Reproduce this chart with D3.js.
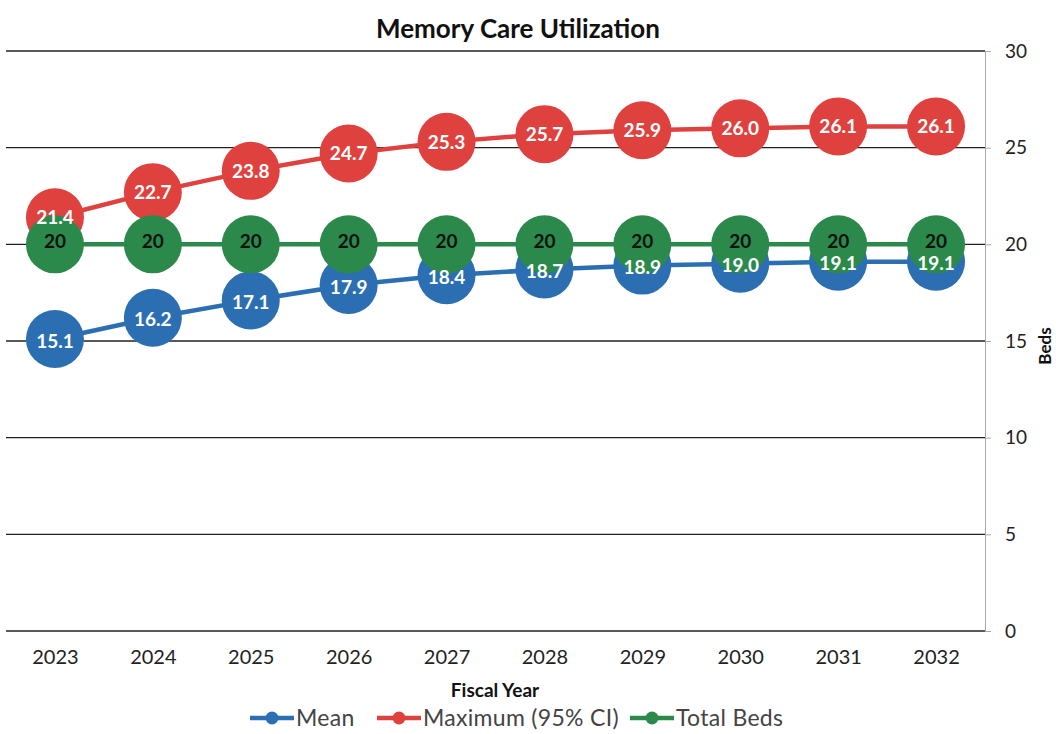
<!DOCTYPE html>
<html>
<head>
<meta charset="utf-8">
<script src="https://cdn.jsdelivr.net/npm/d3@7"></script>
<style>
  body { margin: 0; background: #fff; }
  text { font-family: Lato, "Open Sans", sans-serif; }
</style>
</head>
<body>
<script>
var width = 1056;
var height = 734;

// chart data
var years = ["2023", "2024", "2025", "2026", "2027", "2028", "2029", "2030", "2031", "2032"];
var meanBeds = [15.1, 16.2, 17.1, 17.9, 18.4, 18.7, 18.9, 19.0, 19.1, 19.1];
var maxBeds = [21.4, 22.7, 23.8, 24.7, 25.3, 25.7, 25.9, 26.0, 26.1, 26.1];
var totalBeds = [20, 20, 20, 20, 20, 20, 20, 20, 20, 20];
var yTicks = [0, 5, 10, 15, 20, 25, 30];

var series = [
  { name: "Mean", values: meanBeds, color: "#2b6fb2", label: "#fff", fmt: d3.format(".1f"), dy: 2 },
  { name: "Maximum (95% CI)", values: maxBeds, color: "#df423e", label: "#fff", fmt: d3.format(".1f"), dy: 0 },
  { name: "Total Beds", values: totalBeds, color: "#2b8a4b", label: "#111", fmt: d3.format("d"), dy: -3 }
];

var margin = { left: 6, right: 985, top: 51, bottom: 631 };

var x = d3.scalePoint()
    .domain(years)
    .range([margin.left, margin.right])
    .padding(0.5);

var y = d3.scaleLinear()
    .domain([0, 30])
    .range([margin.bottom, margin.top]);

var svg = d3.select("body").append("svg")
    .attr("width", width)
    .attr("height", height);

// title
svg.append("text")
    .attr("x", 518).attr("y", 38)
    .attr("text-anchor", "middle")
    .style("font-size", "26px").style("font-weight", "bold").style("fill", "#111")
    .text("Memory Care Utilization");

// gridlines
svg.append("g")
  .selectAll("line")
  .data(yTicks)
  .enter().append("line")
    .attr("x1", margin.left).attr("x2", margin.right)
    .attr("y1", d => y(d)).attr("y2", d => y(d))
    .attr("stroke", "#222").attr("stroke-width", 1.3);

// right axis
var yAxis = svg.append("g")
    .attr("transform", "translate(" + margin.right + ",0)")
    .call(d3.axisRight(y).tickValues(yTicks).tickSize(6).tickPadding(14));
yAxis.select(".domain").attr("stroke", "#aaa");
yAxis.selectAll(".tick line").attr("stroke", "#aaa");
yAxis.selectAll("text")
    .style("font-size", "19px").style("fill", "#222")
    .style("font-family", "Lato, sans-serif");

svg.append("text")
    .attr("transform", "translate(1051,346) rotate(-90)")
    .attr("text-anchor", "middle")
    .style("font-size", "17px").style("font-weight", "bold").style("fill", "#111")
    .text("Beds");

// x axis labels
var xAxis = svg.append("g")
    .attr("transform", "translate(0," + margin.bottom + ")")
    .call(d3.axisBottom(x).tickSize(0).tickPadding(19));
xAxis.select(".domain").remove();
xAxis.selectAll("text")
    .style("font-size", "20px").style("fill", "#222")
    .style("font-family", "Lato, sans-serif");

svg.append("text")
    .attr("x", 495).attr("y", 697)
    .attr("text-anchor", "middle")
    .style("font-size", "19px").style("font-weight", "bold").style("fill", "#111")
    .text("Fiscal Year");

var line = d3.line()
    .x((d, i) => x(years[i]))
    .y(d => y(d));

// lines and markers
series.forEach(function(s) {
  svg.append("path")
      .datum(s.values)
      .attr("d", line)
      .attr("fill", "none")
      .attr("stroke", s.color)
      .attr("stroke-width", 4.5);
  svg.append("g")
    .selectAll("circle")
    .data(s.values)
    .enter().append("circle")
      .attr("cx", (d, i) => x(years[i]))
      .attr("cy", d => y(d))
      .attr("r", 29)
      .attr("fill", s.color);
});

// data labels on top
series.forEach(function(s) {
  svg.append("g")
    .selectAll("text")
    .data(s.values)
    .enter().append("text")
      .attr("x", (d, i) => x(years[i]))
      .attr("y", d => y(d) + s.dy)
      .attr("dy", "0.35em")
      .attr("text-anchor", "middle")
      .style("font-size", "19px").style("font-weight", "bold")
      .style("fill", s.label)
      .text(d => s.fmt(d));
});

// legend
var legendX = [250, 377, 630];
var legend = svg.append("g")
  .selectAll("g")
  .data(series)
  .enter().append("g")
    .attr("transform", (d, i) => "translate(" + legendX[i] + ",718)");
legend.append("line")
    .attr("x1", 0).attr("x2", 44)
    .attr("stroke", d => d.color).attr("stroke-width", 4.5);
legend.append("circle")
    .attr("cx", 22).attr("r", 6.5)
    .attr("fill", d => d.color);
legend.append("text")
    .attr("x", 46).attr("dy", "0.35em")
    .style("font-size", "23px").style("fill", "#444")
    .style("letter-spacing", "0.3px")
    .text(d => d.name);
</script>
</body>
</html>
